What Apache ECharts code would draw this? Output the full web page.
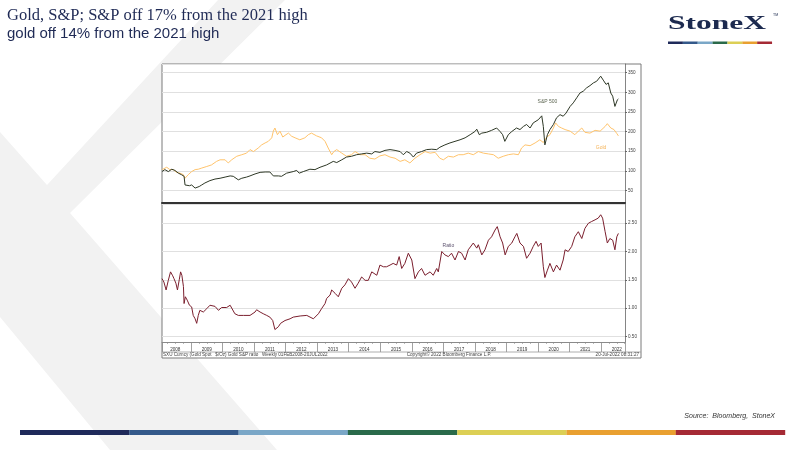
<!DOCTYPE html>
<html><head><meta charset="utf-8">
<script src="https://cdn.jsdelivr.net/npm/echarts@6/dist/echarts.min.js"></script>
<style>html,body{margin:0;padding:0;background:#fff}#c{width:800px;height:450px}</style>
</head><body><div id="c"></div>
<script>
// ---- data (decimal year, value) ----
const spxPoints = [
[2008.08,98],[2008.17,103],[2008.28,98],[2008.39,104],[2008.49,101],[2008.60,94],[2008.70,90],[2008.78,86],[2008.81,64],[2008.86,67],
[2008.95,62],[2009.02,64],[2009.13,56],[2009.18,51],[2009.26,60],[2009.34,64],[2009.44,69],[2009.60,75],[2009.76,79],[2009.92,81],
[2010.08,84],[2010.24,87],[2010.34,86],[2010.50,77],[2010.61,81],[2010.76,84],[2010.87,87],[2011.03,92],[2011.19,96],[2011.35,97],
[2011.50,97],[2011.61,87],[2011.66,84],[2011.77,87],[2011.87,86],[2012.03,94],[2012.24,98],[2012.35,101],[2012.43,94],[2012.56,98],
[2012.77,104],[2012.93,103],[2013.09,109],[2013.30,115],[2013.51,124],[2013.62,121],[2013.78,128],[2013.93,135],[2014.09,137],[2014.25,141],
[2014.41,143],[2014.57,145],[2014.73,143],[2014.83,149],[2014.99,147],[2015.15,152],[2015.31,154],[2015.47,152],[2015.63,149],[2015.73,141],
[2015.84,149],[2015.94,145],[2016.05,135],[2016.15,145],[2016.31,149],[2016.47,154],[2016.63,155],[2016.79,154],[2016.89,160],[2017.05,166],
[2017.21,171],[2017.37,175],[2017.53,179],[2017.69,184],[2017.85,192],[2018.00,200],[2018.06,206],[2018.14,192],[2018.22,196],[2018.37,198],
[2018.53,203],[2018.69,209],[2018.80,200],[2018.88,192],[2018.95,175],[2019.06,192],[2019.17,200],[2019.32,209],[2019.43,205],[2019.54,213],
[2019.64,218],[2019.75,209],[2019.85,222],[2020.01,230],[2020.12,240],[2020.17,213],[2020.22,166],[2020.30,192],[2020.38,205],[2020.49,218],
[2020.59,235],[2020.70,243],[2020.80,239],[2020.89,247],[2021.02,264],[2021.12,273],[2021.23,286],[2021.33,298],[2021.44,303],[2021.54,311],
[2021.65,317],[2021.76,324],[2021.86,328],[2021.91,332],[2021.99,341],[2022.07,331],[2022.16,320],[2022.23,324],[2022.31,298],[2022.37,290],
[2022.44,264],[2022.52,281],[2022.55,283]
];
const goldPoints = [
[2008.08,103],[2008.14,107],[2008.23,109],[2008.33,103],[2008.44,103],[2008.54,96],[2008.65,94],[2008.76,90],[2008.81,81],[2008.91,90],
[2009.02,98],[2009.13,103],[2009.23,104],[2009.34,107],[2009.50,111],[2009.65,115],[2009.81,124],[2009.92,128],[2010.08,128],[2010.18,120],
[2010.29,128],[2010.45,137],[2010.61,141],[2010.76,145],[2010.87,154],[2010.98,149],[2011.13,158],[2011.24,166],[2011.35,171],[2011.45,175],
[2011.56,184],[2011.61,201],[2011.66,209],[2011.74,192],[2011.82,201],[2011.91,186],[2012.01,192],[2012.09,196],[2012.19,188],[2012.30,184],
[2012.45,179],[2012.61,184],[2012.72,192],[2012.82,196],[2012.98,189],[2013.14,184],[2013.25,175],[2013.35,158],[2013.46,141],[2013.53,149],
[2013.62,154],[2013.78,145],[2013.93,137],[2014.09,141],[2014.20,149],[2014.36,141],[2014.52,141],[2014.67,132],[2014.83,130],[2014.99,138],
[2015.15,141],[2015.31,135],[2015.47,132],[2015.63,124],[2015.78,128],[2015.94,120],[2016.10,132],[2016.26,141],[2016.42,149],[2016.58,145],
[2016.74,147],[2016.89,132],[2017.00,128],[2017.16,137],[2017.32,135],[2017.48,141],[2017.63,141],[2017.79,145],[2017.95,141],[2018.11,149],
[2018.27,145],[2018.43,143],[2018.59,141],[2018.74,132],[2018.90,137],[2019.06,141],[2019.22,143],[2019.38,141],[2019.48,158],[2019.59,166],
[2019.75,164],[2019.91,171],[2020.06,179],[2020.17,172],[2020.28,186],[2020.38,192],[2020.49,209],[2020.56,222],[2020.65,213],[2020.75,209],
[2020.86,205],[2021.02,201],[2021.17,192],[2021.28,201],[2021.39,209],[2021.49,198],[2021.65,196],[2021.81,203],[2021.97,201],[2022.13,213],
[2022.20,220],[2022.31,209],[2022.41,205],[2022.50,195],[2022.55,189]
];
const ratioPoints = [
[2008.08,1.52],[2008.14,1.46],[2008.21,1.32],[2008.28,1.49],[2008.35,1.64],[2008.42,1.57],[2008.46,1.52],[2008.52,1.44],[2008.57,1.32],[2008.63,1.51],
[2008.67,1.64],[2008.71,1.58],[2008.76,1.38],[2008.78,1.08],[2008.82,1.20],[2008.88,1.14],[2008.95,1.05],[2009.02,1.02],[2009.07,0.87],[2009.13,0.81],
[2009.18,0.73],[2009.23,0.87],[2009.28,0.96],[2009.34,0.99],[2009.39,0.93],[2009.50,0.99],[2009.60,1.05],[2009.65,1.08],[2009.76,1.03],[2009.87,0.96],
[2009.97,1.01],[2010.13,1.01],[2010.24,1.05],[2010.29,1.03],[2010.39,0.90],[2010.50,0.87],[2010.66,0.87],[2010.87,0.87],[2011.03,0.93],[2011.08,0.97],
[2011.19,0.93],[2011.29,0.90],[2011.40,0.87],[2011.50,0.84],[2011.59,0.78],[2011.66,0.62],[2011.77,0.67],[2011.84,0.73],[2011.98,0.78],[2012.14,0.81],
[2012.24,0.84],[2012.46,0.86],[2012.67,0.87],[2012.88,0.81],[2013.04,0.90],[2013.14,0.99],[2013.25,1.08],[2013.30,1.17],[2013.41,1.23],[2013.46,1.32],
[2013.57,1.26],[2013.67,1.20],[2013.78,1.35],[2013.88,1.41],[2013.99,1.52],[2014.09,1.46],[2014.20,1.35],[2014.30,1.44],[2014.41,1.55],[2014.52,1.49],
[2014.62,1.49],[2014.73,1.64],[2014.78,1.67],[2014.89,1.58],[2014.99,1.76],[2015.10,1.73],[2015.20,1.73],[2015.31,1.76],[2015.41,1.79],[2015.52,1.76],
[2015.60,1.91],[2015.68,1.70],[2015.78,1.79],[2015.89,1.97],[2016.00,1.85],[2016.10,1.52],[2016.21,1.64],[2016.31,1.70],[2016.42,1.58],[2016.58,1.64],
[2016.68,1.58],[2016.79,1.70],[2016.84,1.64],[2016.95,2.00],[2017.05,1.94],[2017.16,1.91],[2017.26,1.97],[2017.37,1.85],[2017.48,2.00],[2017.58,1.97],
[2017.69,1.85],[2017.79,2.03],[2017.95,2.15],[2018.06,2.06],[2018.11,2.12],[2018.22,1.94],[2018.32,2.03],[2018.43,2.20],[2018.53,2.26],[2018.64,2.38],
[2018.71,2.44],[2018.80,2.26],[2018.88,2.15],[2018.96,1.94],[2019.06,2.09],[2019.17,2.15],[2019.27,2.26],[2019.33,2.32],[2019.43,2.15],[2019.54,2.09],
[2019.64,1.88],[2019.75,1.97],[2019.85,2.09],[2019.94,2.18],[2020.01,2.09],[2020.10,2.15],[2020.17,1.73],[2020.22,1.54],[2020.30,1.67],[2020.38,1.79],
[2020.49,1.64],[2020.59,1.76],[2020.70,1.67],[2020.80,1.85],[2020.86,2.03],[2020.96,2.00],[2021.07,2.09],[2021.17,2.26],[2021.28,2.35],[2021.39,2.23],
[2021.49,2.41],[2021.60,2.50],[2021.70,2.53],[2021.81,2.56],[2021.91,2.59],[2021.99,2.65],[2022.05,2.59],[2022.13,2.35],[2022.20,2.15],[2022.28,2.23],
[2022.37,2.20],[2022.44,2.03],[2022.50,2.26],[2022.55,2.32]
];
const yearLabels = ['2008','2009','2010','2011','2012','2013','2014','2015','2016','2017','2018','2019','2020','2021','2022'];
const seriesLabels = {spx:'S&P 500', gold:'Gold', ratio:'Ratio'};
const titleLine1 = 'Gold, S&P; S&P off 17% from the 2021 high';
const titleLine2 = 'gold off 14% from the 2021 high';

const X_MIN = 2008.08, X_MAX = 2022.76;
const tiny = 4.6;

const chart = echarts.init(document.getElementById('c'), null, {renderer:'canvas'});

const barColors = ['#1f2a5a','#34598a','#7aa7c7','#2a6a4a','#dccf55','#e9a030','#a52a35'];
const graphics = [];
// watermark
graphics.push({type:'polygon', z:-100, shape:{points:[[218,0],[285,0],[70,213],[277,450],[110,450],[0,317],[0,132],[47,185]]}, style:{fill:'#f2f2f2'}});
// chart box
graphics.push({type:'rect', z:-50, shape:{x:162,y:64,width:479,height:294}, style:{fill:'#fff', stroke:'#7a7a7a', lineWidth:1}});
graphics.push({type:'line', z:5, shape:{x1:162,y1:352,x2:641,y2:352}, style:{stroke:'#9a9a9a', lineWidth:0.8}});
// footer texts in chart
graphics.push({type:'text', z:5, style:{text:'SXU Curncy (Gold Spot   $/Oz) Gold S&P ratio   Weekly 01FEB2008-20JUL2022', x:163, y:355, fill:'#444', font:'4.6px "Liberation Sans"', textVerticalAlign:'middle'}});
graphics.push({type:'text', z:5, style:{text:'Copyright\u00a9 2022 Bloomberg Finance L.P.', x:449, y:355, fill:'#444', font:'4.6px "Liberation Sans"', textAlign:'center', textVerticalAlign:'middle'}});
graphics.push({type:'text', z:5, style:{text:'20-Jul-2022 08:31:27', x:639, y:355, fill:'#444', font:'4.6px "Liberation Sans"', textAlign:'right', textVerticalAlign:'middle'}});
// titles
graphics.push({type:'text', style:{text:titleLine1, x:7, y:15.5, fill:'#1f2a55', font:'16.5px "Liberation Serif"', textVerticalAlign:'middle'}});
graphics.push({type:'text', style:{text:titleLine2, x:7, y:33.5, fill:'#1f2a55', font:'15px "Liberation Sans"', textVerticalAlign:'middle'}});
// logo
graphics.push({type:'text', x:668, y:24, scaleX:1.75, style:{text:'StoneX', x:0, y:0, fill:'#1c2a4f', font:'bold 18px "Liberation Serif"', textVerticalAlign:'middle'}});
graphics.push({type:'text', style:{text:'TM', x:773, y:15, fill:'#1c2a4f', font:'3.5px "Liberation Sans"', textVerticalAlign:'middle'}});
barColors.forEach((c,i)=>{
  graphics.push({type:'rect', shape:{x:668+i*14.86, y:41.5, width:14.9, height:2.5}, style:{fill:c}});
  graphics.push({type:'rect', shape:{x:20+i*109.3, y:430, width:109.4, height:5}, style:{fill:c}});
});
graphics.push({type:'text', style:{text:'Source:  Bloomberg,  StoneX', x:775, y:416, fill:'#333', font:'italic 7px "Liberation Sans"', textAlign:'right', textVerticalAlign:'middle'}});

const option = {
  animation:false,
  backgroundColor:'transparent',
  graphic: graphics,
  grid:[
    {left:162, top:64, width:463, height:139},
    {left:162, top:204, width:463, height:138}
  ],
  xAxis:[
    {gridIndex:0, type:'value', position:'bottom', min:X_MIN, max:X_MAX, axisLine:{show:true, onZero:false, lineStyle:{color:'#333', width:2}}, axisTick:{show:false}, axisLabel:{show:false}, splitLine:{show:false}},
    {gridIndex:1, type:'value', position:'bottom', min:X_MIN, max:X_MAX, minInterval:1, maxInterval:1, axisLine:{show:true, onZero:false, lineStyle:{color:'#8a8a8a', width:1}},
      axisTick:{show:true, length:10, lineStyle:{color:'#8a8a8a', width:0.8}}, minorTick:{show:true, splitNumber:4, length:2, lineStyle:{color:'#8a8a8a', width:0.6}},
      axisLabel:{show:false}, splitLine:{show:false}},
    {gridIndex:1, type:'value', position:'bottom', offset:0, min:X_MIN, max:X_MAX, minInterval:0.5, maxInterval:0.5, axisLine:{show:false, onZero:false}, axisTick:{show:false}, splitLine:{show:false},
      axisLabel:{show:true, fontSize:tiny, color:'#333', margin:5, fontFamily:'Liberation Sans', showMinLabel:false, showMaxLabel:false,
        formatter:function(v){ const f = v - Math.floor(v); if (Math.abs(f-0.5) < 0.01) { const i = Math.floor(v)-2008; return yearLabels[i] || ''; } return ''; }}}
  ],
  yAxis:[
    {gridIndex:0, type:'value', position:'right', min:18, max:372, minInterval:50, maxInterval:50,
      axisLine:{show:true, lineStyle:{color:'#666', width:0.8}}, axisTick:{show:true, length:2, lineStyle:{color:'#666'}},
      axisLabel:{fontSize:tiny, color:'#444', margin:3, fontFamily:'Liberation Sans', showMinLabel:false, showMaxLabel:false},
      splitLine:{show:true, lineStyle:{color:'#e0e0e0', width:1}}},
    {gridIndex:1, type:'value', position:'right', min:0.4, max:2.84, minInterval:0.5, maxInterval:0.5,
      axisLine:{show:true, lineStyle:{color:'#666', width:0.8}}, axisTick:{show:true, length:2, lineStyle:{color:'#666'}},
      axisLabel:{fontSize:tiny, color:'#444', margin:3, fontFamily:'Liberation Sans', showMinLabel:false, showMaxLabel:false, formatter:function(v){return v.toFixed(2);}},
      splitLine:{show:true, lineStyle:{color:'#e0e0e0', width:1}}}
  ],
  series:[
    {name:seriesLabels.gold, type:'line', xAxisIndex:0, yAxisIndex:0, data:goldPoints, showSymbol:false, z:2,
      lineStyle:{color:'#ffc46c', width:1}, itemStyle:{color:'#ffc46c'},
      markPoint:{symbol:'circle', symbolSize:0, silent:true, label:{show:true, formatter:seriesLabels.gold, color:'#f5b45a', fontSize:5, fontFamily:'Liberation Sans'},
        data:[{coord:[2022.0, 158]}]}},
    {name:seriesLabels.spx, type:'line', xAxisIndex:0, yAxisIndex:0, data:spxPoints, showSymbol:false, z:3,
      lineStyle:{color:'#2e3826', width:1}, itemStyle:{color:'#2e3826'},
      markPoint:{symbol:'circle', symbolSize:0, silent:true, label:{show:true, formatter:seriesLabels.spx, color:'#5d6652', fontSize:5, fontFamily:'Liberation Sans'},
        data:[{coord:[2020.3, 276]}]}},
    {name:seriesLabels.ratio, type:'line', xAxisIndex:1, yAxisIndex:1, data:ratioPoints, showSymbol:false, z:3,
      lineStyle:{color:'#7b1f2e', width:1}, itemStyle:{color:'#7b1f2e'},
      markPoint:{symbol:'circle', symbolSize:0, silent:true, label:{show:true, formatter:seriesLabels.ratio, color:'#5e5470', fontSize:5, fontFamily:'Liberation Sans'},
        data:[{coord:[2017.16, 2.10]}]}}
  ]
};
chart.setOption(option);
</script>
</body></html>
